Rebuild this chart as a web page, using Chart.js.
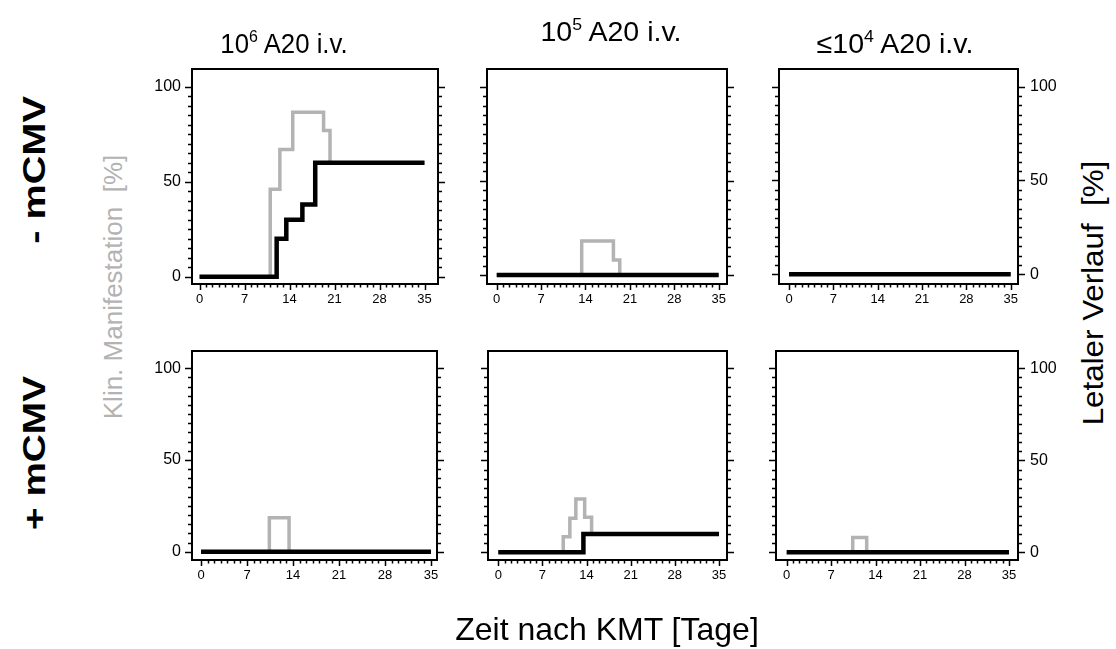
<!DOCTYPE html>
<html>
<head>
<meta charset="utf-8">
<script src="https://cdn.jsdelivr.net/npm/chart.js@4"></script>
<style>
  body { margin: 0; background: #fff; }
  #fig { position: relative; width: 1116px; height: 649px; overflow: hidden; font-family: "Liberation Sans", Arial, sans-serif; }
  #fig canvas { position: absolute; }
  .lbl { position: absolute; white-space: nowrap; line-height: 1; }
  .lbl sup { font-size: 0.62em; vertical-align: 0.62em; }
</style>
</head>
<body>
<div id="fig"></div>
<script>
// axis ticks
const xTicks = [0, 7, 14, 21, 28, 35];
const yTicks = [0, 50, 100];

// - mCMV, 10^6 A20
const klinDaysM6 = [0, 11, 12.5, 14.5, 19.3, 20.3, 35];
const klinM6 = [0, 46, 67, 86.5, 77, 60, 60];
const letalDaysM6 = [0, 12, 13.5, 16, 18, 35];
const letalM6 = [0, 20, 30, 38, 60, 60];

// - mCMV, 10^5 A20
const klinDaysM5 = [0, 13.4, 18.4, 19.4, 35];
const klinM5 = [0, 18, 8, 0, 0];
const letalDaysM5 = [0, 35];
const letalM5 = [0, 0];

// - mCMV, <=10^4 A20
const klinDaysM4 = [0, 35];
const klinM4 = [0, 0];
const letalDaysM4 = [0, 35];
const letalM4 = [0, 0];

// + mCMV, 10^6 A20
const klinDaysP6 = [0, 10.4, 13.4, 35];
const klinP6 = [0, 18.5, 0, 0];
const letalDaysP6 = [0, 35];
const letalP6 = [0, 0];

// + mCMV, 10^5 A20
const klinDaysP5 = [0, 10.3, 11.35, 12.3, 13.7, 14.8, 35];
const klinP5 = [0, 8.5, 18.5, 29, 19, 10, 10];
const letalDaysP5 = [0, 13.5, 35];
const letalP5 = [0, 10, 10];

// + mCMV, <=10^4 A20
const klinDaysP4 = [0, 10.4, 12.6, 35];
const klinP4 = [0, 8, 0, 0];
const letalDaysP4 = [0, 35];
const letalP4 = [0, 0];

const GRAY = '#b3b3b3';
const FONT = '"Liberation Sans", Arial, sans-serif';

// panel boxes on the page [left, top, right, bottom] and axis ranges
const panels = [
  { col: 0, box: [192, 69, 438, 284], x: [-1.17, 37.1], y: [-3.84, 109.3], kd: klinDaysM6, k: klinM6, ld: letalDaysM6, l: letalM6 },
  { col: 1, box: [487, 69, 727, 284], x: [-1.53, 36.31], y: [-4.78, 109.4], kd: klinDaysM5, k: klinM5, ld: letalDaysM5, l: letalM5 },
  { col: 2, box: [779, 69, 1018, 284], x: [-1.58, 36.15], y: [-5.17, 109.4], kd: klinDaysM4, k: klinM4, ld: letalDaysM4, l: letalM4 },
  { col: 0, box: [192, 351, 437, 560], x: [-1.37, 35.91], y: [-4.53, 109.4], kd: klinDaysP6, k: klinP6, ld: letalDaysP6, l: letalP6 },
  { col: 1, box: [488, 351, 727, 560], x: [-1.63, 36.27], y: [-4.18, 109.4], kd: klinDaysP5, k: klinP5, ld: letalDaysP5, l: letalP5 },
  { col: 2, box: [776, 351, 1018, 560], x: [-1.68, 36.42], y: [-4.18, 109.4], kd: klinDaysP4, k: klinP4, ld: letalDaysP4, l: letalP4 }
];

const SIDE = 48, TOP = 12, BOTTOM = 32;

function toPoints(days, vals) {
  return days.map((d, i) => ({ x: d, y: vals[i] }));
}

function range(a, b, step) {
  const out = [];
  for (let v = a; v <= b; v += step) out.push(v);
  return out;
}

// frame around the plot area plus outward tick marks
const frameTicks = {
  id: 'frameTicks',
  afterDatasetsDraw(chart) {
    const { ctx, chartArea: a, scales } = chart;
    ctx.save();
    ctx.strokeStyle = '#000';
    ctx.lineWidth = 1.5;
    ctx.beginPath();
    range(0, 35, 1).forEach(v => {
      const px = Math.round(scales.x.getPixelForValue(v)) + 0.5;
      const len = v % 7 === 0 ? 6 : 3.5;
      ctx.moveTo(px, a.bottom);
      ctx.lineTo(px, a.bottom + len);
    });
    range(0, 100, 5).forEach(v => {
      const py = Math.round(scales.y.getPixelForValue(v)) + 0.5;
      const len = v % 50 === 0 ? 7 : 4;
      ctx.moveTo(a.left - len, py);
      ctx.lineTo(a.left, py);
      ctx.moveTo(a.right, py);
      ctx.lineTo(a.right + len, py);
    });
    ctx.stroke();
    ctx.lineWidth = 2;
    ctx.strokeRect(a.left, a.top, a.right - a.left, a.bottom - a.top);
    ctx.restore();
  }
};

const fig = document.getElementById('fig');

panels.forEach(p => {
  const [bl, bt, br, bb] = p.box;
  const w = br - bl + 2 * SIDE;
  const h = bb - bt + TOP + BOTTOM;
  const canvas = document.createElement('canvas');
  canvas.width = w;
  canvas.height = h;
  canvas.style.left = (bl - SIDE) + 'px';
  canvas.style.top = (bt - TOP) + 'px';
  canvas.style.width = w + 'px';
  canvas.style.height = h + 'px';
  fig.appendChild(canvas);

  const yAxis = (pos, show) => ({
    type: 'linear',
    position: pos,
    min: p.y[0],
    max: p.y[1],
    afterFit: s => {
      s.width = SIDE;
      s.paddingTop = 0;
      s.paddingBottom = 0;
    },
    afterBuildTicks: s => { s.ticks = yTicks.map(v => ({ value: v })); },
    grid: { display: false, drawTicks: false },
    border: { display: false },
    ticks: {
      display: show,
      padding: pos === 'left' ? 11 : 12,
      color: '#000',
      font: { family: FONT, size: 16 }
    }
  });

  new Chart(canvas, {
    type: 'line',
    data: {
      datasets: [
        {
          data: toPoints(p.kd, p.k),
          borderColor: GRAY,
          borderWidth: 3.5,
          stepped: true,
          pointRadius: 0,
          borderCapStyle: 'butt',
          borderJoinStyle: 'miter',
          order: 1
        },
        {
          data: toPoints(p.ld, p.l),
          borderColor: '#000',
          borderWidth: 4.5,
          stepped: true,
          pointRadius: 0,
          borderCapStyle: 'butt',
          borderJoinStyle: 'miter',
          order: 0
        }
      ]
    },
    options: {
      responsive: false,
      animation: false,
      devicePixelRatio: 1,
      layout: { padding: { top: TOP, left: 0, right: 0, bottom: 0 } },
      plugins: { legend: { display: false }, tooltip: { enabled: false } },
      scales: {
        x: {
          type: 'linear',
          min: p.x[0],
          max: p.x[1],
          afterFit: s => {
            s.height = BOTTOM;
            s.paddingLeft = 0;
            s.paddingRight = 0;
          },
          afterBuildTicks: s => { s.ticks = xTicks.map(v => ({ value: v })); },
          grid: { display: false, drawTicks: false },
          border: { display: false },
          ticks: {
            padding: 8,
            maxRotation: 0,
            color: '#000',
            font: { family: FONT, size: 13 }
          }
        },
        y: yAxis('left', p.col === 0),
        y2: yAxis('right', p.col === 2)
      }
    },
    plugins: [frameTicks]
  });
});

// text around the panels
function addLabel(html, x, y, size, opts = {}) {
  const d = document.createElement('div');
  d.className = 'lbl';
  d.innerHTML = html;
  d.style.fontSize = size + 'px';
  d.style.left = x + 'px';
  d.style.top = y + 'px';
  d.style.color = opts.color || '#000';
  if (opts.bold) d.style.fontWeight = 'bold';
  d.style.transform = 'translate(-50%, -50%)' + (opts.rotate ? ' rotate(-90deg)' : '') + (opts.sx ? ' scaleX(' + opts.sx + ')' : '');
  fig.appendChild(d);
}

addLabel('10<sup>6</sup> A20 i.v.', 284, 43, 28, { sx: 0.92 });
addLabel('10<sup>5</sup> A20 i.v.', 611, 31, 28, { sx: 1.02 });
addLabel('\u226410<sup>4</sup> A20 i.v.', 895, 43, 28, { sx: 1.02 });

addLabel('- mCMV', 34, 170, 31, { bold: true, rotate: true, sx: 1.28 });
addLabel('+ mCMV', 34, 453, 31, { bold: true, rotate: true, sx: 1.25 });
addLabel('Klin. Manifestation&nbsp;&nbsp;[%]', 113, 287, 26, { color: GRAY, rotate: true });
addLabel('Letaler Verlauf&nbsp;&nbsp;[%]', 1093, 293, 29, { rotate: true, sx: 1.08 });
addLabel('Zeit nach KMT [Tage]', 607, 629, 32);
</script>
</body>
</html>
